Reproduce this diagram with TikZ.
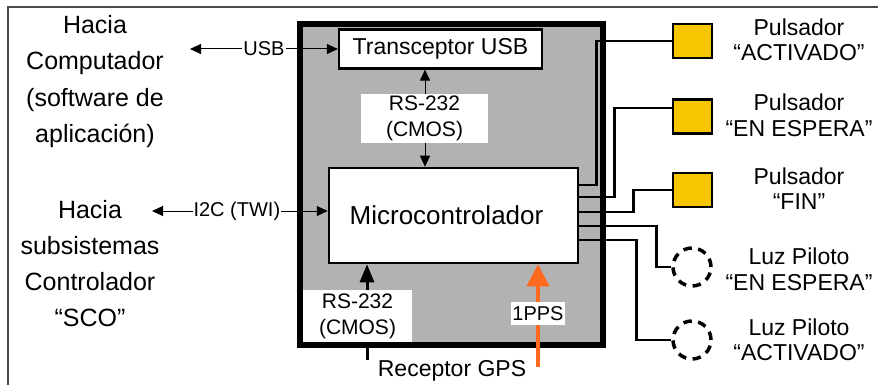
\documentclass[tikz,border=0pt]{standalone}
\usepackage{fontspec}
\setmainfont{Liberation Sans}
\usetikzlibrary{arrows.meta}
\definecolor{boxgray}{RGB}{178,178,178}
\definecolor{pyellow}{RGB}{247,198,0}
\definecolor{ppsorange}{RGB}{255,106,30}
\newcommand\myfs[2]{\fontsize{#1}{#2}\selectfont}
\begin{document}
\begin{tikzpicture}[x=1pt,y=-1pt,
  lbl/.style={fill=white, inner sep=0pt, align=center},
  blockbox/.style={draw, fill=white, inner sep=0pt},
  sarr/.style={line width=1pt, {Triangle[length=11pt,width=10pt]}-{Triangle[length=11pt,width=10pt]}},
  garr/.style={line width=3pt, -{Triangle[length=18pt,width=14pt]}},
  oarr/.style={draw=ppsorange, line width=4pt, -{Triangle[length=22pt,width=22pt]}},
  wire/.style={line width=2.5pt, line join=miter},
  pbox/.style={draw, line width=2.2pt, fill=pyellow, minimum width=39pt, minimum height=34pt, inner sep=0pt},
  lamp/.style={circle, draw, line width=3.5pt, dash pattern=on 8.5pt off 6.5pt, minimum size=38pt, inner sep=0pt},
  rtext/.style={align=center, font=\myfs{23}{25.5}},
  ltext/.style={align=center, font=\myfs{25}{36.5}}]
\useasboundingbox (0,0) rectangle (878,385);
% frame
\draw[black!70, line width=1.2pt] (8,385) -- (8,7) -- (878,7);
% main box
\node[draw, line width=5.5pt, fill=boxgray, minimum width=303pt, minimum height=321pt, inner sep=0pt] (sys) at (451.5,184.5) {};
\node[blockbox, line width=2.2pt, minimum width=203pt, minimum height=39pt, font=\myfs{23}{26}] (usb) at (440.5,49) {Transceptor USB};
\node[blockbox, line width=2.5pt, minimum width=249pt, minimum height=95pt, font=\myfs{26}{30}] (mcu) at (453.5,215.5) {Microcontrolador\hspace*{14pt}};
% internal arrows
\draw[sarr] ([xshift=-15.5pt]usb.south) -- ([xshift=-28.5pt]mcu.north);
\node[lbl, minimum width=127pt, minimum height=49pt, font=\myfs{21}{26}] (rs1) at (424.5,118.5) {RS-232\\(CMOS)};
\coordinate (gpsin) at (367,360);
\draw[garr] (gpsin) -- (gpsin |- mcu.south);
\node[lbl, minimum width=109pt, minimum height=52pt, font=\myfs{21}{26}] (rs2) at (357.5,316) {RS-232\\(CMOS)};
\coordinate (ppsin) at (538,367);
\draw[oarr] (ppsin) -- (ppsin |- mcu.south);
\node[lbl, minimum width=54pt, minimum height=23pt, font=\myfs{20}{24}] (pps) at (538,313.5) {1PPS};
\node[font=\myfs{23}{26}] (gps) at (452,371) {Receptor GPS};
% left side
\coordinate (pcend) at (190,49);
\draw[sarr] (pcend) -- (usb.west) node[midway, lbl, inner xsep=1pt, font=\myfs{20}{24}] (usbl) {USB};
\coordinate (scoend) at (152,211);
\draw[sarr] (scoend) -- (scoend -| mcu.west) node[midway, xshift=-3pt, lbl, inner xsep=1pt, font=\myfs{20}{24}] (i2c) {I2C (TWI)};
\node[ltext] (pc) at (95,81.5) {Hacia\\Computador\\(software de\\aplicación)};
\node[ltext, font=\myfs{25}{36}] (sco) at (90,263.5) {Hacia\\subsistemas\\Controlador\\“SCO”};
% right side devices
\node[pbox] (p1) at (692.5,41) {};
\node[pbox] (p2) at (692.5,116.5) {};
\node[pbox] (p3) at (692.5,190) {};
\node[lamp] (l1) at (692,267) {};
\node[lamp] (l2) at (692,340) {};
\node[rtext] (t1) at (799,40) {Pulsador\\“ACTIVADO”};
\node[rtext] (t2) at (799,115.5) {Pulsador\\“EN ESPERA”};
\node[rtext] (t3) at (799,188.5) {Pulsador\\“FIN”};
\node[rtext] (t4) at (799,269.5) {Luz Piloto\\“EN ESPERA”};
\node[rtext] (t5) at (799,340) {Luz Piloto\\“ACTIVADO”};
% wires
\draw[wire] ([yshift=30.5pt]mcu.east) -- ++(17,0) |- (p1.west);
\draw[wire] ([yshift=18.5pt]mcu.east) -- ++(35,0) |- ([yshift=8.5pt]p2.west);
\draw[wire] ([yshift=3.5pt]mcu.east) -- ++(54,0) |- (p3.west);
\draw[wire] ([yshift=-10.5pt]mcu.east) -- ++(77,0) |- (l1.west);
\draw[wire] ([yshift=-24.5pt]mcu.east) -- ++(57,0) |- (l2.west);
\end{tikzpicture}
\end{document}
